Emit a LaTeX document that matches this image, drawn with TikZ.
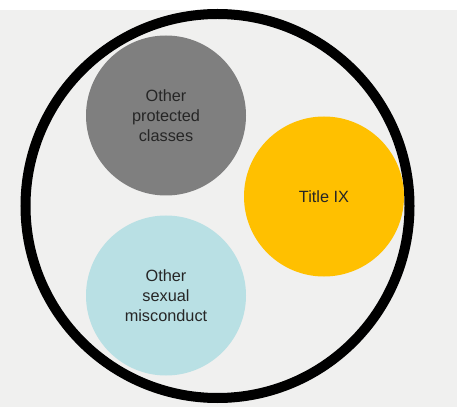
\documentclass[tikz,border=0pt]{standalone}
\usepackage{fontspec}
\setmainfont{Liberation Sans}
\definecolor{panel}{HTML}{F0F0EF}
\definecolor{ringgray}{HTML}{7F7F7F}
\definecolor{titleix}{HTML}{FFC000}
\definecolor{paleblue}{HTML}{B9E0E4}
\definecolor{labeltext}{HTML}{262626}
\tikzset{
  topic/.style={circle, minimum size=160pt, inner sep=0pt, align=center,
    text=labeltext, font=\fontsize{16.3}{20}\selectfont},
  ring/.style={draw=black, line width=10pt}
}
\begin{document}
\begin{tikzpicture}[x=1pt,y=-1pt]
  \useasboundingbox (0,0) rectangle (457,411);
  % backdrop panel
  \fill[panel] (0,10) rectangle (457,407);
  % enclosing ring
  \draw[ring] (217.5,206) circle (192);
  % the three areas
  \node[topic, fill=ringgray] (other) at (166,115.5) {Other\\protected\\classes};
  \node[topic, fill=titleix] (title) at (324,196.5) {Title IX};
  \node[topic, fill=paleblue] (sexual) at (166,295.5) {Other\\sexual\\misconduct};
\end{tikzpicture}
\end{document}
